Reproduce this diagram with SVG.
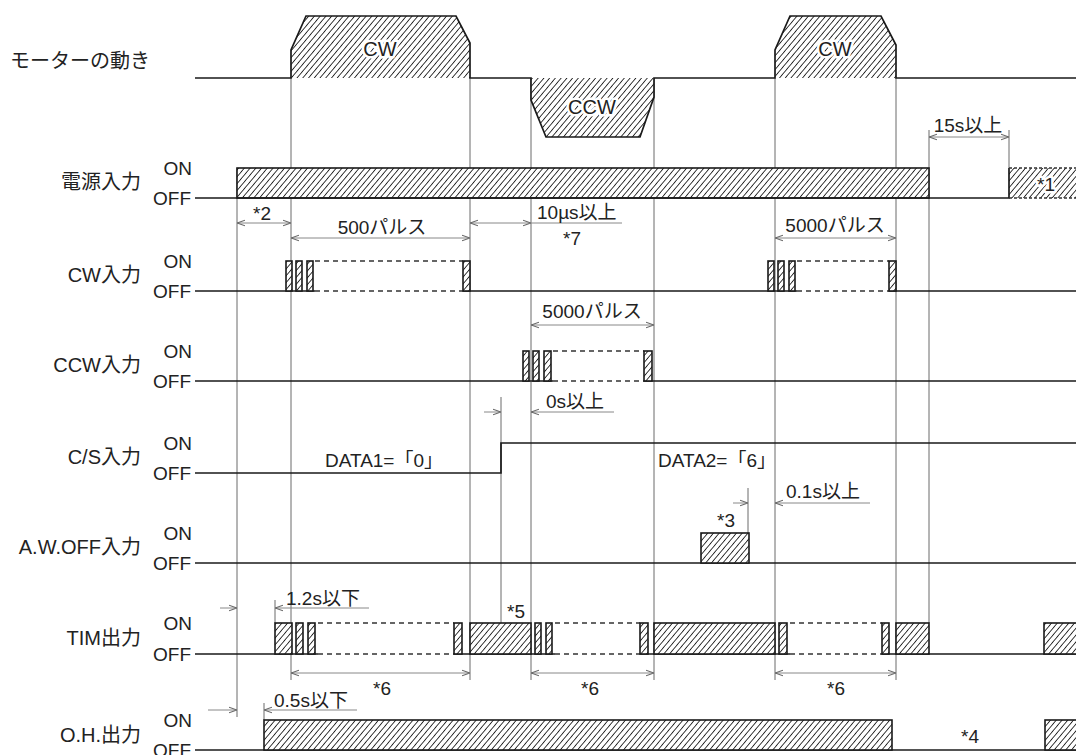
<svg xmlns="http://www.w3.org/2000/svg" width="1076" height="755" viewBox="0 0 1076 755">
<defs>
<pattern id="hatch" patternUnits="userSpaceOnUse" width="4.4" height="4.4" patternTransform="rotate(40)">
<rect width="4.4" height="4.4" fill="#fff"/>
<line x1="0" y1="0" x2="0" y2="4.4" stroke="#1a1a1a" stroke-width="1.7"/>
</pattern>
<marker id="arr" viewBox="0 0 10 10" refX="10" refY="5" markerWidth="8" markerHeight="8" markerUnits="userSpaceOnUse" orient="auto-start-reverse">
<path d="M0,1.5 L10,5 L0,8.5" fill="none" stroke="#666" stroke-width="1.4"/>
</marker>
</defs>
<style>
text { font-family: "Liberation Sans","Noto Sans CJK JP",sans-serif; fill:#222; }
.lbl { font-size:20px; text-anchor:end; }
.on, .off { font-size:19px; text-anchor:end; }
.dim { font-size:19px; }
.c { text-anchor:middle; }
.wave { fill:none; stroke:#1a1a1a; stroke-width:1.7; }
.dash { fill:none; stroke:#333; stroke-width:1.5; stroke-dasharray:5 4; }
.sdash { fill:none; stroke:#333; stroke-width:1.5; stroke-dasharray:3 2; }
.blk { fill:url(#hatch); stroke:#1a1a1a; stroke-width:1.6; }
.guide { stroke:#6a6a6a; stroke-width:1; fill:none; }
.dl { stroke:#888; stroke-width:1; fill:none; }
.da2 { marker-start:url(#arr); marker-end:url(#arr); }
.da1 { marker-end:url(#arr); }
.halo { paint-order:stroke; stroke:#fff; stroke-width:5px; stroke-linejoin:round; }
</style>
<rect width="1076" height="755" fill="#fff"/>

<g id="connectors">
<g class="guide">
<line x1="237" y1="168" x2="237" y2="717"/>
<line x1="291" y1="78" x2="291" y2="680"/>
<line x1="470" y1="78" x2="470" y2="680"/>
<line x1="501" y1="397" x2="501" y2="623"/>
<line x1="531" y1="78" x2="531" y2="680"/>
<line x1="654" y1="78" x2="654" y2="680"/>
<line x1="748" y1="488" x2="748" y2="533"/>
<line x1="775" y1="78" x2="775" y2="680"/>
<line x1="896" y1="78" x2="896" y2="680"/>
<line x1="929" y1="130" x2="929" y2="623"/>
<line x1="1009" y1="130" x2="1009" y2="168"/>
<line x1="275" y1="600" x2="275" y2="623"/>
<line x1="264" y1="703" x2="264" y2="720"/>
</g>
<line class="dl da2" x1="237" y1="223" x2="291" y2="223"/>
<line class="dl da2" x1="291" y1="238" x2="470" y2="238"/>
<line class="dl da2" x1="470" y1="223" x2="531" y2="223"/>
<line class="dl" x1="531" y1="223" x2="622" y2="223"/>
<line class="dl da2" x1="531" y1="325" x2="654" y2="325"/>
<line class="dl da2" x1="775" y1="238" x2="896" y2="238"/>
<line class="dl da2" x1="929" y1="137" x2="1009" y2="137"/>
<line class="dl da1" x1="484" y1="412" x2="501" y2="412"/>
<line class="dl da1" x1="614" y1="412" x2="531" y2="412"/>
<line class="dl da1" x1="733" y1="503" x2="748" y2="503"/>
<line class="dl da1" x1="870" y1="503" x2="775" y2="503"/>
<line class="dl da1" x1="220" y1="608" x2="237" y2="608"/>
<line class="dl da1" x1="369" y1="608" x2="275" y2="608"/>
<line class="dl da1" x1="208" y1="710" x2="237" y2="710"/>
<line class="dl da1" x1="357" y1="710" x2="264" y2="710"/>
<line class="dl da2" x1="291" y1="673" x2="470" y2="673"/>
<line class="dl da2" x1="531" y1="673" x2="654" y2="673"/>
<line class="dl da2" x1="775" y1="673" x2="896" y2="673"/>
</g>

<g id="dimension-labels" class="dim">
<text x="262" y="220" class="c">*2</text>
<text x="382" y="234" class="c">500パルス</text>
<text x="537" y="219">10µs以上</text>
<text x="572" y="245" class="c">*7</text>
<text x="592" y="318" class="c">5000パルス</text>
<text x="835" y="232" class="c">5000パルス</text>
<text x="968" y="132" class="c">15s以上</text>
<text x="546" y="408">0s以上</text>
<text x="384" y="467" class="c">DATA1=「0」</text>
<text x="717" y="467" class="c">DATA2=「6」</text>
<text x="786" y="498">0.1s以上</text>
<text x="726" y="527" class="c">*3</text>
<text x="286" y="605">1.2s以下</text>
<text x="516" y="618" class="c">*5</text>
<text x="382" y="695" class="c">*6</text>
<text x="590" y="695" class="c">*6</text>
<text x="836" y="695" class="c">*6</text>
<text x="274" y="707">0.5s以下</text>
<text x="970" y="743" class="c">*4</text>
</g>

<g id="motor">
<text x="10" y="68" class="lbl" style="text-anchor:start">モーターの動き</text>
<polygon points="291,78 291,50 306,16 456,16 470,43 470,78" fill="url(#hatch)"/>
<polygon points="531,78 531,100 546,137 640,137 654,97 654,78" fill="url(#hatch)"/>
<polygon points="775,78 775,50 790,16 881,16 896,45 896,78" fill="url(#hatch)"/>
<path class="wave" d="M195,78 H291 V50 L306,16 H456 L470,43 V78 H531 V100 L546,137 H640 L654,97 V78 H775 V50 L790,16 H881 L896,45 V78 H1076"/>
<text x="380" y="56" class="c halo" style="font-size:20px">CW</text>
<text x="592" y="114" class="c halo" style="font-size:20px">CCW</text>
<text x="835" y="56" class="c halo" style="font-size:20px">CW</text>
</g>

<g id="power">
<text class="lbl" x="141" y="189">電源入力</text>
<text class="on" x="192" y="175">ON</text>
<text class="off" x="191" y="205">OFF</text>
<rect class="blk" x="237" y="168" width="692" height="30"/>
<rect x="1009" y="168" width="70" height="30" fill="url(#hatch)"/>
<path class="wave" d="M195,198 H1009 V168"/>
<path class="sdash" d="M1009,168 H1076 M1009,198 H1076"/>
<text x="1046" y="191" class="c halo dim">*1</text>
</g>

<g id="cw-input">
<text class="lbl" x="141" y="282">CW入力</text>
<text class="on" x="192" y="268">ON</text>
<text class="off" x="191" y="298">OFF</text>
<path class="wave" d="M195,291 H315 M463,291 H797 M889,291 H1076"/>
<path class="dash" d="M315,261 H463 M315,291 H463 M797,261 H889 M797,291 H889"/>
<rect class="blk" x="286" y="261" width="6" height="30"/>
<rect class="blk" x="296" y="261" width="6" height="30"/>
<rect class="blk" x="307" y="261" width="6" height="30"/>
<rect class="blk" x="463" y="261" width="7" height="30"/>
<rect class="blk" x="768" y="261" width="6" height="30"/>
<rect class="blk" x="778" y="261" width="6" height="30"/>
<rect class="blk" x="789" y="261" width="6" height="30"/>
<rect class="blk" x="889" y="261" width="7" height="30"/>
</g>

<g id="ccw-input">
<text class="lbl" x="141" y="372">CCW入力</text>
<text class="on" x="192" y="358">ON</text>
<text class="off" x="191" y="388">OFF</text>
<path class="wave" d="M195,381 H553 M644,381 H1076"/>
<path class="dash" d="M553,351 H644 M553,381 H644"/>
<rect class="blk" x="523" y="351" width="6" height="30"/>
<rect class="blk" x="533" y="351" width="6" height="30"/>
<rect class="blk" x="544" y="351" width="7" height="30"/>
<rect class="blk" x="644" y="351" width="8" height="30"/>
</g>

<g id="cs-input">
<text class="lbl" x="141" y="464">C/S入力</text>
<text class="on" x="192" y="450">ON</text>
<text class="off" x="191" y="480">OFF</text>
<path class="wave" d="M195,473 H501 V443 H1076"/>
</g>

<g id="awoff-input">
<text class="lbl" x="141" y="554">A.W.OFF入力</text>
<text class="on" x="192" y="540">ON</text>
<text class="off" x="191" y="570">OFF</text>
<path class="wave" d="M195,563 H1076"/>
<rect class="blk" x="701" y="533" width="48" height="30"/>
</g>

<g id="tim-output">
<text class="lbl" x="141" y="645">TIM出力</text>
<text class="on" x="192" y="630">ON</text>
<text class="off" x="191" y="661">OFF</text>
<path class="wave" d="M195,654 H318 M454,654 H555 M640,654 H790 M882,654 H1076"/>
<path class="dash" d="M318,623 H454 M318,654 H454 M555,623 H640 M555,654 H640 M790,623 H882 M790,654 H882"/>
<rect class="blk" x="275" y="623" width="17" height="31"/>
<rect class="blk" x="296" y="623" width="7" height="31"/>
<rect class="blk" x="308" y="623" width="7" height="31"/>
<rect class="blk" x="454" y="623" width="8" height="31"/>
<rect class="blk" x="470" y="623" width="61" height="31"/>
<rect class="blk" x="535" y="623" width="6" height="31"/>
<rect class="blk" x="546" y="623" width="6" height="31"/>
<rect class="blk" x="640" y="623" width="8" height="31"/>
<rect class="blk" x="654" y="623" width="121" height="31"/>
<rect class="blk" x="779" y="623" width="8" height="31"/>
<rect class="blk" x="882" y="623" width="7" height="31"/>
<rect class="blk" x="896" y="623" width="33" height="31"/>
<rect class="blk" x="1044" y="623" width="36" height="31"/>
</g>

<g id="oh-output">
<text class="lbl" x="141" y="742">O.H.出力</text>
<text class="on" x="192" y="727">ON</text>
<text class="off" x="191" y="757">OFF</text>
<path class="wave" d="M195,750 H1076"/>
<rect class="blk" x="264" y="720" width="628" height="30"/>
<rect class="blk" x="1045" y="720" width="35" height="30"/>
</g>
</svg>
